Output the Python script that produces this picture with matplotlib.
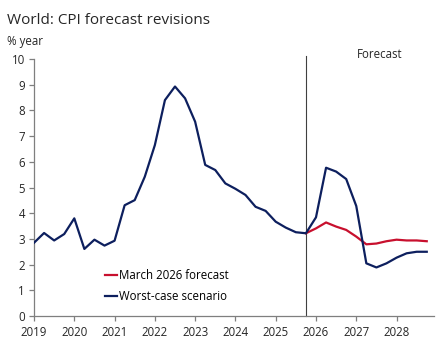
import matplotlib
matplotlib.use("Agg")
import matplotlib.pyplot as plt

plt.rcParams['font.family'] = ['Open Sans', 'DejaVu Sans']

# quarterly history + worst-case scenario (2019Q1 .. 2028Q4)
quarters = [2019 + 0.25 * i for i in range(40)]
worst_case = [2.85, 3.23, 2.94, 3.19, 3.80, 2.61, 2.97, 2.74,
              2.93, 4.31, 4.51, 5.42, 6.65, 8.40, 8.93, 8.47,
              7.56, 5.88, 5.68, 5.16, 4.95, 4.71, 4.25, 4.09,
              3.67, 3.44, 3.26, 3.22, 3.84, 5.77, 5.62, 5.33,
              4.28, 2.05, 1.89, 2.05, 2.27, 2.44, 2.50, 2.50]

# March 2026 forecast from 2025Q4 onwards
fc_quarters = quarters[27:]
march_fc = [3.22, 3.41, 3.64, 3.48, 3.35, 3.09, 2.79, 2.82,
            2.91, 2.97, 2.94, 2.94, 2.91]

years = list(range(2019, 2029))
yticks = list(range(0, 11))
forecast_start = 2025.75

fig = plt.figure(figsize=(4.44, 3.54), dpi=100)
ax = fig.add_axes([0.0766, 0.1073, 0.9009, 0.726])

navy = '#0d1f5e'
red = '#c8102e'
grey = '#7f7f7f'

ax.plot(fc_quarters, march_fc, color=red, lw=1.6, label='March 2026 forecast', zorder=3)
ax.plot(quarters, worst_case, color=navy, lw=1.6, label='Worst-case scenario', zorder=4)

ax.axvline(forecast_start, ymin=0, ymax=1.012, color='#404040', lw=0.8, clip_on=False)

ax.set_xlim(2019, 2028.93)
ax.set_ylim(0, 10)
ax.set_xticks(years)
ax.set_xticklabels([str(y) for y in years])
ax.set_yticks(yticks)

for s in ['top', 'right']:
    ax.spines[s].set_visible(False)
for s in ['left', 'bottom']:
    ax.spines[s].set_color(grey)
    ax.spines[s].set_linewidth(0.9)
ax.tick_params(axis='both', colors=grey, labelcolor='#262626', labelsize=8.3,
               length=3.5, width=0.9, direction='out')
ax.tick_params(axis='x', pad=4)
ax.tick_params(axis='y', pad=3)

leg = ax.legend(loc='lower left', bbox_to_anchor=(0.165, 0.032), frameon=False,
                fontsize=8.3, handlelength=1.1, handletextpad=0.15,
                labelspacing=0.75, borderaxespad=0)

fig.text(0.016, 0.941, 'World: CPI forecast revisions', fontsize=11,
         color='#262626', va='center', ha='left')
fig.text(0.016, 0.884, '% year', fontsize=8.3, color='#262626', va='center', ha='left')
fig.text(0.856, 0.846, 'Forecast', fontsize=8.3, color='#262626', va='center', ha='center')

fig.savefig('out.png', dpi=100)
